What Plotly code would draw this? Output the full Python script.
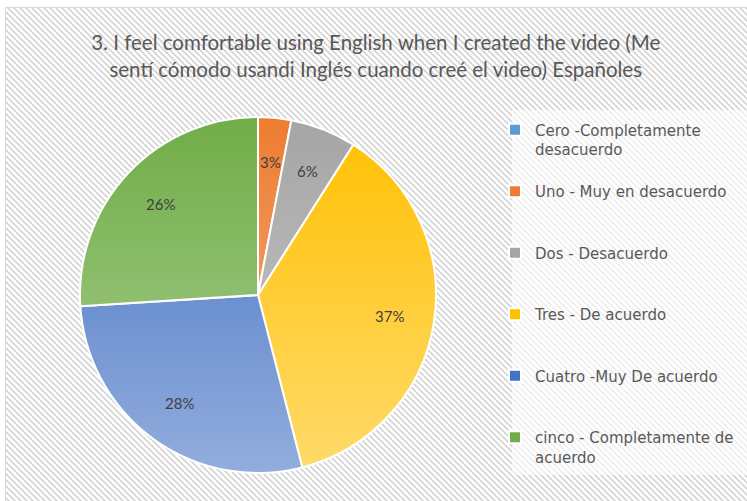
import base64
import math
import plotly.graph_objects as go

# ---- data -------------------------------------------------------------
categories = [
    "Cero -Completamente<br>desacuerdo",
    "Uno - Muy en desacuerdo",
    "Dos - Desacuerdo",
    "Tres - De acuerdo",
    "Cuatro -Muy De acuerdo",
    "cinco - Completamente de<br>acuerdo",
]
percentages = [0, 3, 6, 37, 28, 26]
slice_colors = ["#5B9BD5", "#ED7D31", "#A5A5A5", "#FFC000", "#4472C4", "#70AD47"]
title_lines = [
    "3. I feel comfortable using English when I created the video (Me",
    "sentí cómodo usandi Inglés cuando creé el video) Españoles",
]

# ---- layout constants (pixels) ---------------------------------------
W, H = 747, 501
PIE_LEFT, PIE_RIGHT, PIE_TOP, PIE_BOTTOM = 80, 436, 117, 473
LEGEND_TEXT_X, LEGEND_TOP = 535, 94
LEGEND_BOX = (512, 110, 760, 475)
LABEL_RADIUS = 0.75  # data labels sit at this fraction of the radius


def px_x(v):
    return v / W


def px_y(v):
    return 1 - v / H


def svg_uri(svg):
    return "data:image/svg+xml;base64," + base64.b64encode(svg.encode("utf-8")).decode("ascii")


# Excel-style diagonal hatch behind the whole chart area
hatch_svg = (
    f"<svg xmlns='http://www.w3.org/2000/svg' width='{W}' height='{H}' viewBox='0 0 {W} {H}'>"
    "<defs><pattern id='h' patternUnits='userSpaceOnUse' width='6' height='6'>"
    "<rect width='6' height='6' fill='#ffffff'/>"
    "<path d='M-1,-1 L7,7 M-7,-1 L1,7 M5,-1 L13,7' stroke='#d4d4d4' stroke-width='1.6'/>"
    "</pattern></defs>"
    f"<rect width='{W}' height='{H}' fill='#ffffff'/>"
    f"<rect x='5.5' y='7.5' width='{W + 20}' height='{H + 20}' fill='url(#h)' "
    "stroke='#d9d9d9' stroke-width='1'/>"
    "</svg>"
)

# soft top-to-bottom sheen laid over the pie
sheen_svg = (
    "<svg xmlns='http://www.w3.org/2000/svg' width='100' height='100' viewBox='0 0 100 100'>"
    "<defs><linearGradient id='g' x1='0' y1='0' x2='0' y2='1'>"
    "<stop offset='0' stop-color='#ffffff' stop-opacity='0'/>"
    "<stop offset='1' stop-color='#ffffff' stop-opacity='0.42'/>"
    "</linearGradient></defs>"
    "<circle cx='50' cy='50' r='50' fill='url(#g)'/></svg>"
)

# pad legend entries to three lines so the entries are evenly spread
legend_labels = []
for lab in categories:
    if "<br>" in lab:
        legend_labels.append("\u00a0<br>" + lab)
    else:
        legend_labels.append("\u00a0<br>" + lab + "<br>\u00a0")

fig = go.Figure(
    go.Pie(
        labels=legend_labels,
        values=percentages,
        sort=False,
        direction="clockwise",
        rotation=0,
        marker=dict(colors=slice_colors, line=dict(color="#ffffff", width=2)),
        domain=dict(x=[px_x(PIE_LEFT), px_x(PIE_RIGHT)], y=[px_y(PIE_BOTTOM), px_y(PIE_TOP)]),
        textinfo="none",
        hoverinfo="label+percent",
    )
)

# percentage labels at each slice's mid-angle (clockwise from 12 o'clock)
cx = (PIE_LEFT + PIE_RIGHT) / 2
cy = (PIE_TOP + PIE_BOTTOM) / 2
radius = (PIE_RIGHT - PIE_LEFT) / 2
total = sum(percentages)
annotations = []
running = 0
for value in percentages:
    mid = (running + value / 2) / total * 2 * math.pi
    running += value
    if value <= 0:
        continue
    lx = cx + LABEL_RADIUS * radius * math.sin(mid)
    ly = cy - LABEL_RADIUS * radius * math.cos(mid)
    annotations.append(dict(
        text=f"{round(value / total * 100)}%",
        x=px_x(lx), y=px_y(ly), xref="paper", yref="paper",
        xanchor="center", yanchor="middle", showarrow=False,
        font=dict(family="Lato", size=15, color="#404040"),
    ))

fig.update_layout(
    width=W,
    height=H,
    margin=dict(l=0, r=0, t=0, b=0, pad=0),
    paper_bgcolor="#ffffff",
    title=dict(
        text="<br>".join(title_lines),
        font=dict(family="Lato", size=20.5, color="#595959"),
        x=0.503,
        xanchor="center",
        xref="paper",
        y=px_y(50),
        yanchor="top",
        yref="container",
    ),
    showlegend=True,
    legend=dict(
        x=px_x(LEGEND_TEXT_X - 40),
        xanchor="left",
        y=px_y(LEGEND_TOP),
        yanchor="top",
        bgcolor="rgba(0,0,0,0)",
        font=dict(family="DejaVu Sans", size=15, color="#595959"),
        traceorder="normal",
    ),
    annotations=annotations,
    images=[
        dict(source=svg_uri(hatch_svg), xref="paper", yref="paper", x=0, y=1,
             sizex=1, sizey=1, xanchor="left", yanchor="top", sizing="stretch", layer="below"),
        dict(source=svg_uri(sheen_svg), xref="paper", yref="paper",
             x=px_x(PIE_LEFT), y=px_y(PIE_TOP),
             sizex=px_x(PIE_RIGHT - PIE_LEFT), sizey=(PIE_BOTTOM - PIE_TOP) / H,
             xanchor="left", yanchor="top", sizing="stretch", layer="above"),
    ],
    shapes=[
        dict(type="rect", xref="paper", yref="paper",
             x0=px_x(LEGEND_BOX[0]), x1=px_x(LEGEND_BOX[2]),
             y0=px_y(LEGEND_BOX[3]), y1=px_y(LEGEND_BOX[1]),
             fillcolor="rgba(255,255,255,0.6)", line=dict(width=0), layer="below"),
    ],
)

fig.write_html("out.html")
